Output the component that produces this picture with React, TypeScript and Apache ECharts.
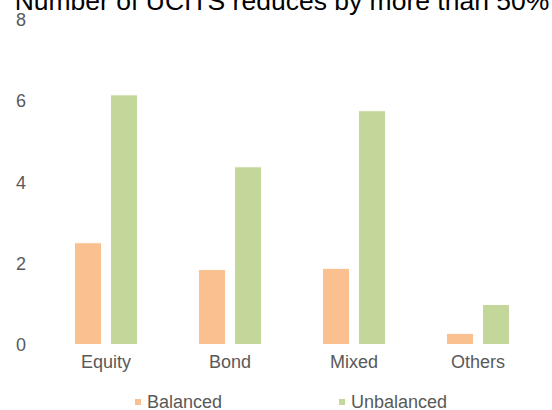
import React, { useEffect, useRef } from "react";
import * as echarts from "echarts";

const titleText = "Number of UCITS reduces by more than 50%";
const categories = ["Equity", "Bond", "Mixed", "Others"];
const balanced = [2.53, 1.87, 1.9, 0.3];
const unbalanced = [6.17, 4.4, 5.78, 1.01];
const seriesNames = ["Balanced", "Unbalanced"];
const colors = ["#FAC090", "#C4D79B"];

export default function App() {
  const ref = useRef<HTMLDivElement>(null);
  useEffect(() => {
    document.body.style.margin = "0";
    const chart = echarts.init(ref.current!, null, { renderer: "svg" });
    const font = "Liberation Sans, Arial, sans-serif";
    chart.setOption({
      animation: false,
      textStyle: { fontFamily: font },
      graphic: [
        {
          type: "text",
          x: 282,
          y: 14,
          style: {
            text: titleText,
            fontSize: 26.5,
            fontFamily: font,
            fill: "#000000",
            align: "center",
            verticalAlign: "bottom",
          },
        },
      ],
      legend: {
        data: seriesNames,
        left: 133,
        top: 393,
        padding: 0,
        itemWidth: 8,
        itemHeight: 8,
        itemGap: 115,
        icon: "rect",
        textStyle: { fontSize: 18, color: "#595959", fontFamily: font },
      },
      grid: { left: 44, right: 12, top: 20, bottom: 65, containLabel: false },
      xAxis: {
        type: "category",
        data: categories,
        axisLine: { show: false },
        axisTick: { show: false },
        axisLabel: { fontSize: 18, color: "#595959", margin: 8, fontFamily: font },
      },
      yAxis: {
        type: "value",
        min: 0,
        max: 8,
        interval: 2,
        splitLine: { show: false },
        axisLine: { show: false },
        axisTick: { show: false },
        axisLabel: { fontSize: 18, color: "#595959", margin: 18, fontFamily: font },
      },
      series: [
        {
          name: seriesNames[0],
          type: "bar",
          data: balanced,
          barWidth: 28,
          barGap: "28.6%",
          itemStyle: { color: colors[0], borderColor: "#ffffff", borderWidth: 1 },
        },
        {
          name: seriesNames[1],
          type: "bar",
          data: unbalanced,
          barWidth: 28,
          barGap: "28.6%",
          itemStyle: { color: colors[1], borderColor: "#ffffff", borderWidth: 1 },
        },
      ],
    });
    return () => chart.dispose();
  }, []);
  return <div ref={ref} style={{ width: 552, height: 410 }} />;
}
